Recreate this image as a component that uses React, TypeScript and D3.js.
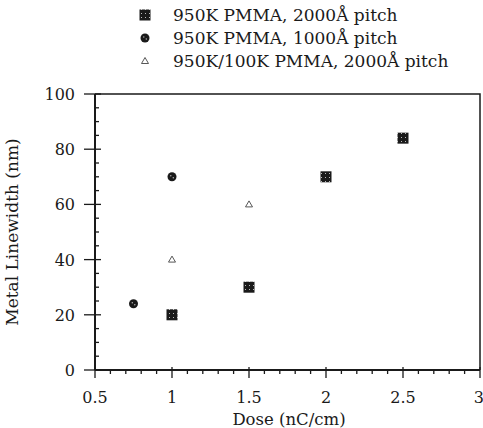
import React, { useEffect, useRef } from "react";
import * as d3 from "d3";

// series: dose (nC/cm) and metal linewidth (nm)
const pitch2000Dose = [1, 1.5, 2, 2.5];
const pitch2000Width = [20, 30, 70, 84];
const pitch1000Dose = [0.75, 1];
const pitch1000Width = [24, 70];
const bilayerDose = [1, 1.5];
const bilayerWidth = [40, 60];

const legendLabels = [
  "950K PMMA, 2000Å pitch",
  "950K PMMA, 1000Å pitch",
  "950K/100K PMMA, 2000Å pitch",
];
const xTicks = [0.5, 1, 1.5, 2, 2.5, 3];
const yTicks = [0, 20, 40, 60, 80, 100];

const W = 483;
const H = 428;
const FONT = "DejaVu Serif, serif";

const App = () => {
  const svgRef = useRef<SVGSVGElement>(null);

  useEffect(() => {
    const svg = d3.select(svgRef.current);
    svg.selectAll("*").remove();

    const x = d3.scaleLinear().domain([0.5, 3]).range([95, 480]);
    const y = d3.scaleLinear().domain([0, 100]).range([370, 94]);
    const ink = "#1a1a1a";

    // speckle pattern for the filled square marker
    const defs = svg.append("defs");
    const sq = defs
      .append("pattern")
      .attr("id", "speckle")
      .attr("width", 4)
      .attr("height", 4)
      .attr("patternUnits", "userSpaceOnUse");
    sq.append("rect").attr("width", 4).attr("height", 4).attr("fill", ink);
    sq.append("rect").attr("x", 1).attr("y", 1).attr("width", 1).attr("height", 1).attr("fill", "#bbb");

    // frame
    svg
      .append("path")
      .attr("d", `M${x(0.5)},${y(100)} H${x(3)} V${y(0)}`)
      .attr("fill", "none")
      .attr("stroke", ink)
      .attr("stroke-width", 1.5);

    // axis lines
    svg
      .append("line")
      .attr("x1", x(0.5)).attr("x2", x(3))
      .attr("y1", y(0)).attr("y2", y(0))
      .attr("stroke", ink).attr("stroke-width", 2);
    svg
      .append("line")
      .attr("x1", x(0.5)).attr("x2", x(0.5))
      .attr("y1", y(0)).attr("y2", y(100))
      .attr("stroke", ink).attr("stroke-width", 2);

    // y ticks: minor every 5 inward, major crossing
    const yMinor = d3.range(0, 101, 5).filter((v) => v % 20 !== 0);
    svg
      .selectAll(".ymin")
      .data(yMinor)
      .join("line")
      .attr("x1", x(0.5)).attr("x2", x(0.5) + 4)
      .attr("y1", (d) => y(d)).attr("y2", (d) => y(d))
      .attr("stroke", ink).attr("stroke-width", 1.3);
    svg
      .selectAll(".ymaj")
      .data(yTicks)
      .join("line")
      .attr("x1", x(0.5) - 11).attr("x2", x(0.5) + 6)
      .attr("y1", (d) => y(d)).attr("y2", (d) => y(d))
      .attr("stroke", ink).attr("stroke-width", 1.3);
    svg
      .selectAll(".ylab")
      .data(yTicks)
      .join("text")
      .attr("x", x(0.5) - 20)
      .attr("y", (d) => y(d) + 6)
      .attr("text-anchor", "end")
      .style("font-family", FONT)
      .style("font-size", "16px")
      .attr("fill", ink)
      .text((d) => d);

    // x ticks: minor every 0.1 downward, major longer
    const xMinor = d3.range(5, 31).map((v) => v / 10).filter((v) => Math.round(v * 10) % 5 !== 0);
    svg
      .selectAll(".xmin")
      .data(xMinor)
      .join("line")
      .attr("x1", (d) => x(d)).attr("x2", (d) => x(d))
      .attr("y1", y(0)).attr("y2", y(0) + 4)
      .attr("stroke", ink).attr("stroke-width", 1.3);
    svg
      .selectAll(".xmaj")
      .data(xTicks)
      .join("line")
      .attr("x1", (d) => x(d)).attr("x2", (d) => x(d))
      .attr("y1", y(0) - 3).attr("y2", y(0) + 8)
      .attr("stroke", ink).attr("stroke-width", 1.3);
    svg
      .selectAll(".xlab")
      .data(xTicks)
      .join("text")
      .attr("x", (d) => x(d))
      .attr("y", y(0) + 33)
      .attr("text-anchor", (d) => (d === 3 ? "end" : "middle"))
      .attr("dx", (d) => (d === 3 ? 4 : 0))
      .style("font-family", FONT)
      .style("font-size", "16px")
      .attr("fill", ink)
      .text((d) => d);

    // axis titles
    svg
      .append("text")
      .attr("x", 289)
      .attr("y", 425)
      .attr("text-anchor", "middle")
      .style("font-family", FONT)
      .style("font-size", "16.5px")
      .attr("fill", ink)
      .text("Dose (nC/cm)");
    svg
      .append("text")
      .attr("transform", `translate(18, 232) rotate(-90)`)
      .attr("text-anchor", "middle")
      .style("font-family", FONT)
      .style("font-size", "17px")
      .attr("fill", ink)
      .text("Metal Linewidth (nm)");

    // marker drawers
    const square = (g: any, cx: number, cy: number) =>
      g.append("rect")
        .attr("x", cx - 5.5).attr("y", cy - 5.5)
        .attr("width", 11).attr("height", 11)
        .attr("fill", "url(#speckle)");
    const circle = (g: any, cx: number, cy: number) => {
      g.append("circle").attr("cx", cx).attr("cy", cy).attr("r", 4.5).attr("fill", ink);
      g.append("circle").attr("cx", cx - 1.2).attr("cy", cy - 1).attr("r", 0.7).attr("fill", "#bbb");
      g.append("circle").attr("cx", cx + 1.3).attr("cy", cy + 1).attr("r", 0.7).attr("fill", "#bbb");
    };
    const triangle = (g: any, cx: number, cy: number) =>
      g.append("path")
        .attr("d", `M${cx},${cy - 3.5} L${cx + 3.5},${cy + 2.5} L${cx - 3.5},${cy + 2.5} Z`)
        .attr("fill", "none")
        .attr("stroke", "#444")
        .attr("stroke-width", 0.9);

    const marks = svg.append("g");
    pitch2000Dose.forEach((d, i) => square(marks, x(d), y(pitch2000Width[i])));
    pitch1000Dose.forEach((d, i) => circle(marks, x(d), y(pitch1000Width[i])));
    bilayerDose.forEach((d, i) => triangle(marks, x(d), y(bilayerWidth[i])));

    // legend
    const drawers = [square, circle, triangle];
    legendLabels.forEach((label, i) => {
      const ly = 15 + i * 23;
      drawers[i](svg, 145, ly);
      svg
        .append("text")
        .attr("x", 173)
        .attr("y", ly + 6)
        .style("font-family", FONT)
        .style("font-size", "17px")
        .attr("fill", ink)
        .text(label);
    });
  }, []);

  return (
    <svg
      ref={svgRef}
      width={W}
      height={H}
      style={{ position: "absolute", left: 0, top: 0, background: "#fff" }}
    />
  );
};

export default App;
